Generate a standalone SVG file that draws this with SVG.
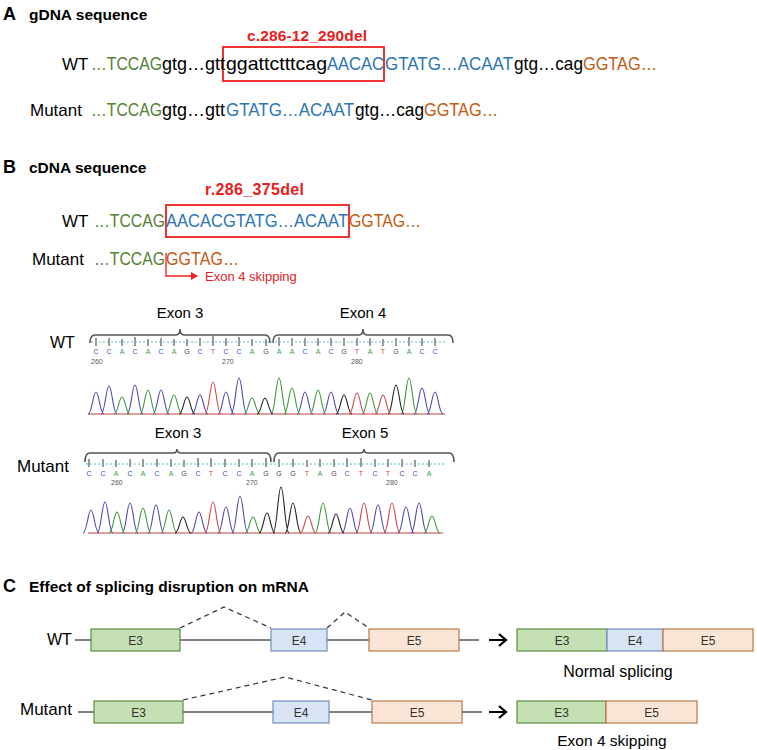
<svg xmlns="http://www.w3.org/2000/svg" width="757" height="750" viewBox="0 0 757 750">
<style>
text{font-family:"Liberation Sans",Arial,sans-serif}
.hd{font-size:15.5px;font-weight:bold;fill:#000}
.let{font-size:18px;font-weight:bold;fill:#000}
.seq{font-size:19px}
.lbl{font-size:17px;fill:#000}
.gr{fill:#548235}.bl{fill:#2e75b6}.bk{fill:#000}.or{fill:#c55a11}
.red{fill:#e8201c;font-weight:bold}
.rbox{fill:none;stroke:#e8201c;stroke-width:1.8}
.exl{font-size:15px;fill:#000}
.b{font-size:7px;text-anchor:middle}
.cC{fill:#4b4baf}.cA{fill:#3a9a3a}.cG{fill:#444}.cT{fill:#d04545}
.num{font-size:7px;fill:#555}
.brace{fill:none;stroke:#555;stroke-width:1.6}
.dot{stroke:#52c3cc;stroke-width:1;stroke-dasharray:2 2}
.tick{fill:#9a9a9a}
.pk{fill:none;stroke-width:1.1}
.e3{fill:#c5e0b4;stroke:#5b8c3e;stroke-width:1.2}
.e4{fill:#dae3f3;stroke:#6f8fbf;stroke-width:1.2}
.e5{fill:#fbe5d6;stroke:#b8784a;stroke-width:1.2}
.et{font-size:12px;fill:#333;text-anchor:middle}
.ln{stroke:#000;stroke-width:1}
.dash{fill:none;stroke:#333;stroke-width:1.2;stroke-dasharray:5 4}
.arr{fill:none;stroke:#000;stroke-width:2.2}
</style>
<defs>
<marker id="rah" markerWidth="8" markerHeight="8" refX="6" refY="4" orient="auto" markerUnits="userSpaceOnUse">
<path d="M0 0 L7 4 L0 8 Z" fill="#e8201c"/>
</marker>
</defs>

<g id="panelA">
<text x="3" y="20" class="let">A</text>
<text x="29" y="20" class="hd">gDNA sequence</text>
<text x="247" y="41" class="red" font-size="15.5" textLength="120">c.286-12_290del</text>
<rect x="223" y="47" width="161" height="34" class="rbox"/>
<text x="62" y="70" class="lbl">WT</text>
<text y="70" class="seq"><tspan x="91" class="gr" textLength="71" lengthAdjust="spacingAndGlyphs">…TCCAG</tspan><tspan x="162" class="bk" textLength="63" lengthAdjust="spacingAndGlyphs">gtg…gtt</tspan><tspan x="226" class="bk" textLength="101" lengthAdjust="spacingAndGlyphs">ggattctttcag</tspan><tspan x="327" class="bl" textLength="57" lengthAdjust="spacingAndGlyphs">AACAC</tspan><tspan x="385" class="bl" textLength="128" lengthAdjust="spacingAndGlyphs">GTATG…ACAAT</tspan><tspan x="514" class="bk" textLength="69" lengthAdjust="spacingAndGlyphs">gtg…cag</tspan><tspan x="583" class="or" textLength="74" lengthAdjust="spacingAndGlyphs">GGTAG…</tspan></text>
<text x="30" y="116" class="lbl">Mutant</text>
<text y="116" class="seq"><tspan x="91" class="gr" textLength="71" lengthAdjust="spacingAndGlyphs">…TCCAG</tspan><tspan x="162" class="bk" textLength="63" lengthAdjust="spacingAndGlyphs">gtg…gtt</tspan><tspan x="226" class="bl" textLength="128" lengthAdjust="spacingAndGlyphs">GTATG…ACAAT</tspan><tspan x="355" class="bk" textLength="69" lengthAdjust="spacingAndGlyphs">gtg…cag</tspan><tspan x="424" class="or" textLength="74" lengthAdjust="spacingAndGlyphs">GGTAG…</tspan></text>
</g>

<g id="panelB">
<text x="3" y="173" class="let">B</text>
<text x="29" y="173" class="hd">cDNA sequence</text>
<text x="205" y="195" class="red" font-size="16" textLength="99">r.286_375del</text>
<rect x="166" y="205" width="183" height="32" class="rbox"/>
<text x="62" y="227" class="lbl">WT</text>
<text y="227" class="seq"><tspan x="94" class="gr" textLength="71" lengthAdjust="spacingAndGlyphs">…TCCAG</tspan><tspan x="166" class="bl" textLength="182" lengthAdjust="spacingAndGlyphs">AACACGTATG…ACAAT</tspan><tspan x="349" class="or" textLength="72" lengthAdjust="spacingAndGlyphs">GGTAG…</tspan></text>
<text x="32" y="265" class="lbl">Mutant</text>
<text y="265" class="seq"><tspan x="94" class="gr" textLength="71" lengthAdjust="spacingAndGlyphs">…TCCAG</tspan><tspan x="166" class="or" textLength="73" lengthAdjust="spacingAndGlyphs">GGTAG…</tspan></text>
<path d="M166 253 V276 H197" fill="none" stroke="#e8201c" stroke-width="1.3" marker-end="url(#rah)"/>
<text x="205" y="281" font-size="13" fill="#e8201c">Exon 4 skipping</text>
</g>

<g id="chromWT">
<text x="180" y="318" class="exl" text-anchor="middle">Exon 3</text>
<text x="363" y="318" class="exl" text-anchor="middle">Exon 4</text>
<path class="brace" d="M90 343 Q90 335 95 335 L176 335 Q180 335 180 329 Q180 335 184 335 L265 335 Q270 335 270 343"/>
<path class="brace" d="M273 343 Q273 335 278 335 L359 335 Q363 335 363 329 Q363 335 367 335 L448 335 Q453 335 453 343"/>
<text x="50" y="348" font-size="16" fill="#000">WT</text>
<line x1="91" y1="342" x2="445" y2="342" class="dot"/>
<g class="tick">
<rect x="95" y="338" width="2" height="8"/><rect x="108" y="338" width="2" height="8"/><rect x="121" y="339" width="2" height="7"/><rect x="134" y="337" width="2" height="9"/><rect x="147" y="339" width="2" height="7"/><rect x="160" y="338" width="2" height="8"/><rect x="173" y="339" width="2" height="7"/><rect x="186" y="339" width="2" height="7"/><rect x="199" y="338" width="2" height="8"/><rect x="212" y="336" width="2" height="10"/><rect x="225" y="338" width="2" height="8"/><rect x="238" y="337" width="2" height="9"/><rect x="251" y="339" width="2" height="7"/><rect x="265" y="339" width="2" height="7"/><rect x="278" y="337" width="2" height="9"/><rect x="291" y="338" width="2" height="8"/><rect x="304" y="338" width="2" height="8"/><rect x="317" y="338" width="2" height="8"/><rect x="330" y="338" width="2" height="8"/><rect x="343" y="338" width="2" height="8"/><rect x="356" y="338" width="2" height="8"/><rect x="369" y="338" width="2" height="8"/><rect x="382" y="339" width="2" height="7"/><rect x="395" y="338" width="2" height="8"/><rect x="408" y="337" width="2" height="9"/><rect x="421" y="338" width="2" height="8"/><rect x="434" y="338" width="2" height="8"/>
</g>
<text y="354" class="b cC" x="96">C</text><text y="354" class="b cC" x="109">C</text><text y="354" class="b cA" x="122">A</text><text y="354" class="b cC" x="135">C</text><text y="354" class="b cA" x="148">A</text><text y="354" class="b cC" x="161">C</text><text y="354" class="b cA" x="174">A</text><text y="354" class="b cG" x="187">G</text><text y="354" class="b cC" x="200">C</text><text y="354" class="b cT" x="213">T</text><text y="354" class="b cC" x="226">C</text><text y="354" class="b cC" x="239">C</text><text y="354" class="b cA" x="252">A</text><text y="354" class="b cG" x="266">G</text><text y="354" class="b cA" x="279">A</text><text y="354" class="b cA" x="292">A</text><text y="354" class="b cC" x="305">C</text><text y="354" class="b cA" x="318">A</text><text y="354" class="b cC" x="331">C</text><text y="354" class="b cG" x="344">G</text><text y="354" class="b cT" x="357">T</text><text y="354" class="b cA" x="370">A</text><text y="354" class="b cT" x="383">T</text><text y="354" class="b cG" x="396">G</text><text y="354" class="b cA" x="409">A</text><text y="354" class="b cC" x="422">C</text><text y="354" class="b cC" x="435">C</text>
<text x="91" y="364" class="num">260</text>
<text x="222" y="364" class="num">270</text>
<text x="351" y="364" class="num">280</text>
<line x1="88" y1="414" x2="445" y2="414" stroke="#c04040" stroke-width="1"/>
<path class="pk" stroke="#4b4baf" d="M88 414C92 414 93 392 96 392C99 392 100 414 104 414M101 414C105 414 106 386 109 386C112 386 113 414 117 414M127 414C131 414 132 385 135 385C138 385 139 414 143 414M153 414C157 414 158 390 161 390C164 390 165 414 169 414M192 414C196 414 197 395 200 395C203 395 204 414 208 414M218 414C222 414 223 392 226 392C229 392 230 414 234 414M231 414C235 414 236 378 239 378C242 378 243 414 247 414M297 414C301 414 302 392 305 392C308 392 309 414 313 414M323 414C327 414 328 392 331 392C334 392 335 414 339 414M414 414C418 414 419 388 422 388C425 388 426 414 430 414M427 414C431 414 432 392 435 392C438 392 439 414 443 414"/>
<path class="pk" stroke="#3a9a3a" d="M114 414C118 414 119 397 122 397C125 397 126 414 130 414M140 414C144 414 145 390 148 390C151 390 152 414 156 414M166 414C170 414 171 395 174 395C177 395 178 414 182 414M244 414C248 414 249 398 252 398C255 398 256 414 260 414M271 414C275 414 276 378 279 378C282 378 283 414 287 414M284 414C288 414 289 388 292 388C295 388 296 414 300 414M310 414C314 414 315 390 318 390C321 390 322 414 326 414M362 414C366 414 367 393 370 393C373 393 374 414 378 414M401 414C405 414 406 378 409 378C412 378 413 414 417 414"/>
<path class="pk" stroke="#222" d="M179 414C183 414 184 397 187 397C190 397 191 414 195 414M257 414C261 414 262 398 265 398C268 398 269 414 273 414M336 414C340 414 341 395 344 395C347 395 348 414 352 414M388 414C392 414 393 385 396 385C399 385 400 414 404 414"/>
<path class="pk" stroke="#d04545" d="M205 414C209 414 210 382 213 382C216 382 217 414 221 414M349 414C353 414 354 393 357 393C360 393 361 414 365 414M375 414C379 414 380 395 383 395C386 395 387 414 391 414"/>
</g>

<g id="chromMutant">
<text x="178" y="438" class="exl" text-anchor="middle">Exon 3</text>
<text x="365" y="438" class="exl" text-anchor="middle">Exon 5</text>
<path class="brace" d="M85 462 Q85 453 90 453 L173 453 Q177 453 177 449 Q177 453 181 453 L266 453 Q271 453 271 462"/>
<path class="brace" d="M274 462 Q274 453 279 453 L360 453 Q364 453 364 449 Q364 453 368 453 L449 453 Q454 453 454 462"/>
<text x="17" y="472" font-size="17" fill="#000">Mutant</text>
<line x1="86" y1="464" x2="445" y2="464" class="dot"/>
<g class="tick">
<rect x="88" y="459" width="2" height="8"/><rect x="102" y="459" width="2" height="8"/><rect x="115" y="460" width="2" height="7"/><rect x="129" y="459" width="2" height="8"/><rect x="142" y="459" width="2" height="8"/><rect x="156" y="459" width="2" height="8"/><rect x="170" y="459" width="2" height="8"/><rect x="183" y="460" width="2" height="7"/><rect x="197" y="458" width="2" height="9"/><rect x="210" y="458" width="2" height="9"/><rect x="224" y="459" width="2" height="8"/><rect x="238" y="459" width="2" height="8"/><rect x="251" y="459" width="2" height="8"/><rect x="265" y="458" width="2" height="9"/><rect x="278" y="459" width="2" height="8"/><rect x="292" y="459" width="2" height="8"/><rect x="306" y="460" width="2" height="7"/><rect x="319" y="459" width="2" height="8"/><rect x="333" y="459" width="2" height="8"/><rect x="346" y="458" width="2" height="9"/><rect x="360" y="458" width="2" height="9"/><rect x="374" y="459" width="2" height="8"/><rect x="387" y="459" width="2" height="8"/><rect x="401" y="459" width="2" height="8"/><rect x="414" y="460" width="2" height="7"/><rect x="428" y="460" width="2" height="7"/>
</g>
<text y="476" class="b cC" x="89">C</text><text y="476" class="b cC" x="103">C</text><text y="476" class="b cA" x="116">A</text><text y="476" class="b cC" x="130">C</text><text y="476" class="b cA" x="143">A</text><text y="476" class="b cC" x="157">C</text><text y="476" class="b cA" x="171">A</text><text y="476" class="b cG" x="184">G</text><text y="476" class="b cC" x="198">C</text><text y="476" class="b cT" x="211">T</text><text y="476" class="b cC" x="225">C</text><text y="476" class="b cC" x="239">C</text><text y="476" class="b cA" x="252">A</text><text y="476" class="b cG" x="266">G</text><text y="476" class="b cG" x="279">G</text><text y="476" class="b cG" x="293">G</text><text y="476" class="b cT" x="307">T</text><text y="476" class="b cA" x="320">A</text><text y="476" class="b cG" x="334">G</text><text y="476" class="b cC" x="347">C</text><text y="476" class="b cT" x="361">T</text><text y="476" class="b cC" x="375">C</text><text y="476" class="b cT" x="388">T</text><text y="476" class="b cC" x="402">C</text><text y="476" class="b cC" x="415">C</text><text y="476" class="b cA" x="429">A</text>
<text x="111" y="485" class="num">260</text>
<text x="246" y="485" class="num">270</text>
<text x="386" y="485" class="num">280</text>
<line x1="88" y1="533" x2="443" y2="533" stroke="#c04040" stroke-width="1"/>
<path class="pk" stroke="#4b4baf" d="M83 533C87 533 88 510 91 510C94 510 95 533 99 533M97 533C101 533 102 502 105 502C108 502 109 533 113 533M122 533C126 533 127 503 130 503C133 503 134 533 138 533M148 533C152 533 153 505 156 505C159 505 160 533 164 533M191 533C195 533 196 512 199 512C202 512 203 533 207 533M218 533C222 533 223 507 226 507C229 507 230 533 234 533M232 533C236 533 237 496 240 496C243 496 244 533 248 533M342 533C346 533 347 508 350 508C353 508 354 533 358 533M370 533C374 533 375 505 378 505C381 505 382 533 386 533M398 533C402 533 403 507 406 507C409 507 410 533 414 533M411 533C415 533 416 503 419 503C422 503 423 533 427 533"/>
<path class="pk" stroke="#3a9a3a" d="M109 533C113 533 114 512 117 512C120 512 121 533 125 533M135 533C139 533 140 508 143 508C146 508 147 533 151 533M161 533C165 533 166 510 169 510C172 510 173 533 177 533M245 533C249 533 250 517 253 517C256 517 257 533 261 533M315 533C319 533 320 503 323 503C326 503 327 533 331 533M424 533C428 533 429 516 432 516C435 516 436 533 440 533"/>
<path class="pk" stroke="#222" d="M175 533C179 533 180 517 183 517C186 517 187 533 191 533M259 533C263 533 264 513 267 513C270 513 271 533 275 533M273 533C277 533 278 487 281 487C284 487 285 533 289 533M285 533C289 533 290 503 293 503C296 503 297 533 301 533M328 533C332 533 333 514 336 514C339 514 340 533 344 533"/>
<path class="pk" stroke="#d04545" d="M205 533C209 533 210 502 213 502C216 502 217 533 221 533M300 533C304 533 305 516 308 516C311 516 312 533 316 533M356 533C360 533 361 503 364 503C367 503 368 533 372 533M384 533C388 533 389 503 392 503C395 503 396 533 400 533"/>
</g>

<g id="panelC-title">
<text x="3" y="592" class="let">C</text>
<text x="29" y="592" class="hd">Effect of splicing disruption on mRNA</text>
<text x="47" y="645" font-size="16" fill="#000">WT</text>
<text x="20" y="715" font-size="17" fill="#000">Mutant</text>
<text x="618" y="677" font-size="16" fill="#000" text-anchor="middle">Normal splicing</text>
<text x="612" y="746" font-size="15.5" fill="#000" text-anchor="middle">Exon 4 skipping</text>
</g>

<g id="connectors">
<line x1="75" y1="640" x2="91" y2="640" class="ln"/>
<line x1="180" y1="640" x2="271" y2="640" class="ln"/>
<line x1="327" y1="640" x2="369" y2="640" class="ln"/>
<line x1="459" y1="640" x2="479" y2="640" class="ln"/>
<path class="dash" d="M180 628 L224 607 L271 628"/>
<path class="dash" d="M327 628 L345 612 L369 628"/>
<path class="arr" d="M489 640 H505 M499 634 L506 640 L499 646"/>
<line x1="78" y1="712" x2="94" y2="712" class="ln"/>
<line x1="183" y1="712" x2="273" y2="712" class="ln"/>
<line x1="329" y1="712" x2="372" y2="712" class="ln"/>
<line x1="462" y1="712" x2="482" y2="712" class="ln"/>
<path class="dash" d="M183 700 L285 677 L372 700"/>
<path class="arr" d="M489 712 H505 M499 706 L506 712 L499 718"/>
</g>

<g id="wt-E3"><rect x="91" y="629" width="89" height="22" class="e3"/><text x="135.5" y="645" class="et">E3</text></g>
<g id="wt-E4"><rect x="271" y="629" width="56" height="22" class="e4"/><text x="299" y="645" class="et">E4</text></g>
<g id="wt-E5"><rect x="369" y="629" width="90" height="22" class="e5"/><text x="414" y="645" class="et">E5</text></g>
<g id="wt-mRNA">
<rect x="517" y="629" width="90" height="22" class="e3"/><text x="562" y="645" class="et">E3</text>
<rect x="607" y="629" width="56" height="22" class="e4"/><text x="635" y="645" class="et">E4</text>
<rect x="663" y="629" width="90" height="22" class="e5"/><text x="708" y="645" class="et">E5</text>
</g>
<g id="mut-E3"><rect x="94" y="701" width="89" height="22" class="e3"/><text x="138.5" y="717" class="et">E3</text></g>
<g id="mut-E4"><rect x="273" y="701" width="56" height="22" class="e4"/><text x="301" y="717" class="et">E4</text></g>
<g id="mut-E5"><rect x="372" y="701" width="90" height="22" class="e5"/><text x="417" y="717" class="et">E5</text></g>
<g id="mut-mRNA">
<rect x="517" y="701" width="89" height="22" class="e3"/><text x="561.5" y="717" class="et">E3</text>
<rect x="606" y="701" width="91" height="22" class="e5"/><text x="651.5" y="717" class="et">E5</text>
</g>
</svg>
